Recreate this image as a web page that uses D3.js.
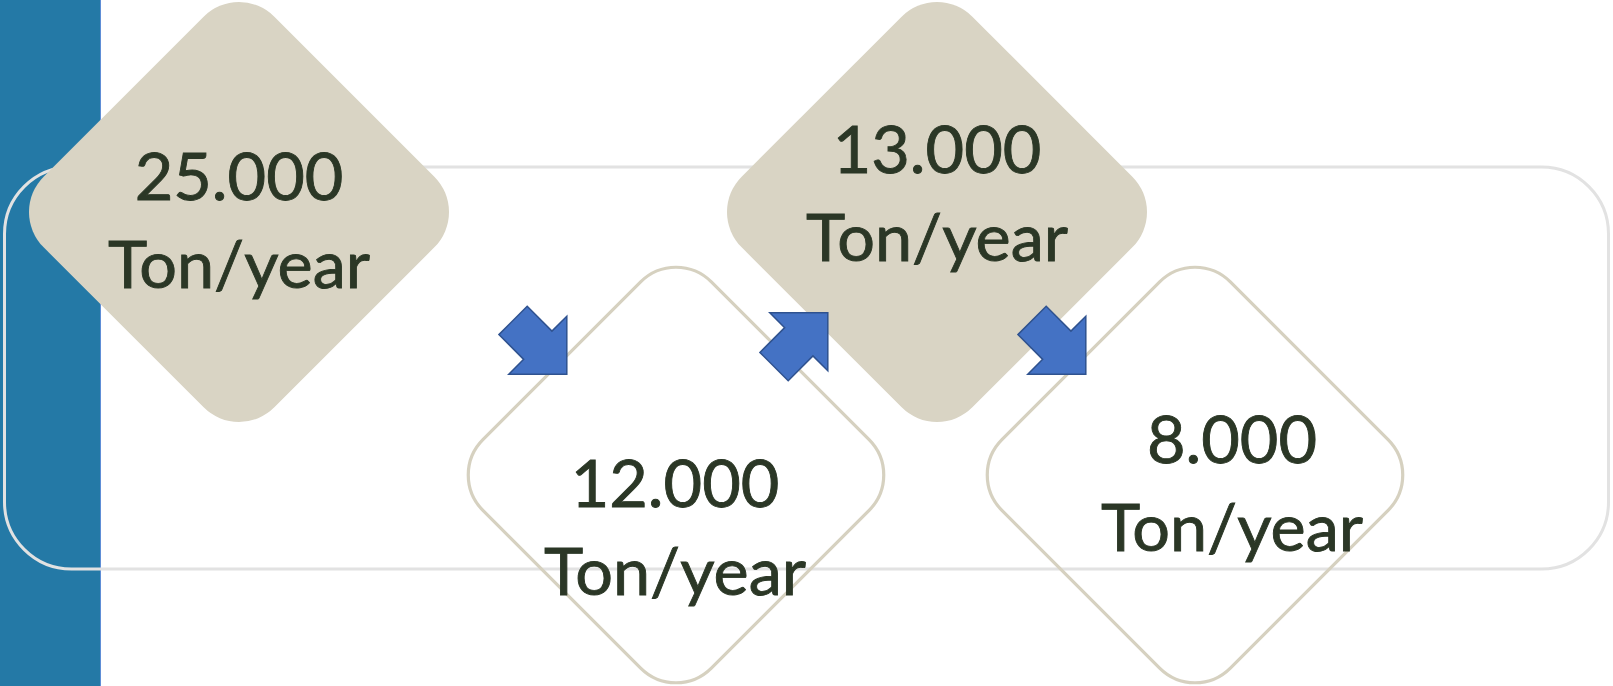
<!DOCTYPE html>
<html>
<head>
<meta charset="utf-8">
<script src="https://cdn.jsdelivr.net/npm/d3@7"></script>
<style>
    html, body { margin: 0; padding: 0; background: #fff; overflow: hidden; }
    svg { display: block; }
</style>
</head>
<body>
<script>
// data
let steps = ["s1", "s2", "s3", "s4"];
let amounts = ["25.000", "12.000", "13.000", "8.000"];
let unitLabel = "Ton/year";
let levels = ["high", "low", "high", "low"];
let flows = [[0, 1], [1, 2], [2, 3]];

// layout
let svgWidth = 1613,
    svgHeight = 686,
    half = 210,        // centre to rounded tip
    cornerR = 50,
    lineGap = 88,
    textDx = [0, -1, 0, 37],
    textDy = [-12, 32, -39, -12];

let side = Math.SQRT2 * (half + cornerR * (Math.SQRT2 - 1));

let xScale = d3.scaleOrdinal().domain(steps).range([239, 676, 937, 1195]);
let yScale = d3.scaleOrdinal().domain(["high", "low"]).range([212, 475]);

let svg = d3.select("body").append("svg")
    .attr("width", svgWidth)
    .attr("height", svgHeight);

// blue side band
svg.append("rect")
    .attr("x", 0).attr("y", 0)
    .attr("width", 100).attr("height", svgHeight)
    .attr("fill", "#2479A6");
svg.append("line")
    .attr("x1", 100.5).attr("x2", 100.5)
    .attr("y1", 0).attr("y2", svgHeight)
    .attr("stroke", "#5E8ED6").attr("stroke-width", 1);

// frame
svg.append("rect")
    .attr("x", 4.5).attr("y", 167)
    .attr("width", 1604).attr("height", 402)
    .attr("rx", 67).attr("ry", 67)
    .attr("fill", "none")
    .attr("stroke", "#E2E2E2")
    .attr("stroke-width", 3);

// diamonds
let nodes = steps.map((s, i) => ({step: s, amount: amounts[i], level: levels[i], i: i}));

svg.selectAll("rect.diamond")
    .data(nodes)
    .enter().append("rect")
    .attr("class", "diamond")
    .attr("x", d => d.level === "high" ? -side / 2 : -side / 2 + 1.6)
    .attr("y", d => d.level === "high" ? -side / 2 : -side / 2 + 1.6)
    .attr("width", d => d.level === "high" ? side : side - 3.2)
    .attr("height", d => d.level === "high" ? side : side - 3.2)
    .attr("rx", cornerR).attr("ry", cornerR)
    .attr("transform", d => "translate(" + xScale(d.step) + "," + yScale(d.level) + ") rotate(45)")
    .attr("fill", d => d.level === "high" ? "#D9D4C4" : "none")
    .attr("stroke", d => d.level === "high" ? "none" : "#D6D1C0")
    .attr("stroke-width", 3.2);

// arrows (tip sits on the near edge of the target diamond)
let arrowShape = [[0, 0], [-41, -41], [-41, -20], [-76, -20], [-76, 20], [-41, 20], [-41, 41]];
let line = d3.line().curve(d3.curveLinearClosed);

svg.selectAll("path.arrow")
    .data(flows)
    .enter().append("path")
    .attr("class", "arrow")
    .attr("d", line(arrowShape))
    .attr("transform", f => {
        let t = nodes[f[1]];
        let down = t.level === "low";
        let tx = xScale(t.step) - 0.52 * half;
        let ty = yScale(t.level) + (down ? -0.48 : 0.48) * half;
        return "translate(" + tx + "," + ty + ") rotate(" + (down ? 45 : -45) + ")";
    })
    .attr("fill", "#4472C4")
    .attr("stroke", "#2F528F")
    .attr("stroke-width", 1.5)
    .attr("stroke-linejoin", "miter");

// labels
let fontFamily = "Lato, 'Open Sans', sans-serif";
let probe = svg.append("text")
    .attr("font-family", fontFamily)
    .attr("font-size", 100)
    .text(unitLabel);
let fontSize = 100 * 262 / probe.node().getComputedTextLength();
probe.remove();

let labels = svg.selectAll("text.label")
    .data(nodes)
    .enter().append("text")
    .attr("class", "label")
    .attr("text-anchor", "middle")
    .attr("font-family", fontFamily)
    .attr("font-size", fontSize)
    .attr("fill", "#2B3726")
    .attr("stroke", "#2B3726")
    .attr("stroke-width", 0.9);

labels.append("tspan")
    .attr("x", d => xScale(d.step) + textDx[d.i])
    .attr("y", d => yScale(d.level) + textDy[d.i])
    .text(d => d.amount);

labels.append("tspan")
    .attr("x", d => xScale(d.step) + textDx[d.i])
    .attr("y", d => yScale(d.level) + textDy[d.i] + lineGap)
    .text(unitLabel);
</script>
</body>
</html>
